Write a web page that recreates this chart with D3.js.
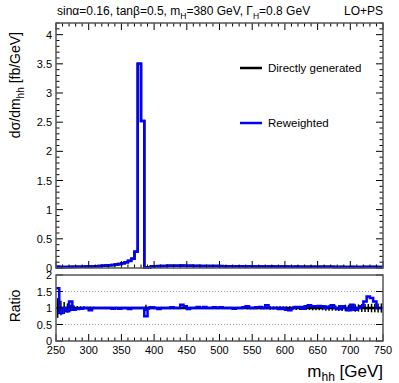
<!DOCTYPE html>
<html>
<head>
<meta charset="utf-8">
<script src="https://cdn.jsdelivr.net/npm/d3@7"></script>
<style>
  body { margin: 0; background: #fff; }
  text { font-family: "Liberation Sans", Arial, sans-serif; fill: #000; }
</style>
</head>
<body>
<script>
// bin edges: 5 GeV bins from 250 to 750
var binLow = d3.range(250, 750, 5);

// dsigma/dm_hh [fb/GeV], directly generated
var directValues = [
  0.015, 0.016, 0.017, 0.018, 0.019, 0.020, 0.021, 0.022, 0.023, 0.025,
  0.027, 0.029, 0.031, 0.034, 0.037, 0.041, 0.046, 0.052, 0.060, 0.070,
  0.082, 0.100, 0.125, 0.160, 0.280, 3.500, 2.520, 0.004, 0.014, 0.024,
  0.030, 0.033, 0.035, 0.036, 0.037, 0.038, 0.038, 0.038, 0.038, 0.038,
  0.037, 0.037, 0.036, 0.036, 0.035, 0.035, 0.034, 0.034, 0.033, 0.033,
  0.032, 0.032, 0.031, 0.031, 0.030, 0.030, 0.029, 0.029, 0.028, 0.028,
  0.027, 0.027, 0.026, 0.026, 0.026, 0.025, 0.025, 0.025, 0.024, 0.024,
  0.024, 0.023, 0.023, 0.023, 0.022, 0.022, 0.022, 0.021, 0.021, 0.021,
  0.021, 0.020, 0.020, 0.020, 0.020, 0.019, 0.019, 0.019, 0.019, 0.018,
  0.018, 0.018, 0.018, 0.018, 0.017, 0.017, 0.017, 0.017, 0.017, 0.016
];

// ratio reweighted / directly generated
var ratioValues = [
  1.60, 0.85, 1.00, 0.90, 1.20, 0.95, 0.97, 0.98, 1.00, 1.00,
  0.93, 1.00, 1.00, 1.00, 1.00, 1.00, 1.00, 0.98, 1.00, 0.98,
  1.00, 1.00, 0.97, 1.00, 1.00, 1.00, 1.00, 0.75, 1.00, 1.02,
  1.00, 0.97, 1.00, 1.00, 1.00, 1.02, 1.00, 1.00, 1.10, 1.05,
  0.97, 1.00, 1.00, 1.03, 1.00, 1.03, 1.00, 1.00, 1.02, 1.00,
  1.02, 1.00, 1.00, 1.00, 0.98, 1.00, 1.00, 1.02, 1.05, 1.00,
  1.00, 1.02, 1.03, 1.00, 1.08, 1.00, 1.00, 1.00, 0.97, 1.00,
  0.95, 0.93, 1.00, 1.03, 1.03, 0.98, 1.05, 1.08, 1.05, 1.05,
  1.06, 1.05, 1.00, 1.04, 1.08, 1.00, 0.97, 1.05, 1.00, 0.93,
  1.10, 0.95, 1.00, 1.05, 1.20, 1.35, 1.30, 1.20, 1.00, 1.00
];

// relative stat. error of the direct sample
var directErrors = [
  0.30, 0.22, 0.18, 0.14, 0.10, 0.08, 0.06, 0.05, 0.05, 0.04,
  0.04, 0.04, 0.03, 0.03, 0.03, 0.03, 0.03, 0.02, 0.02, 0.02,
  0.02, 0.02, 0.02, 0.02, 0.02, 0.01, 0.01, 0.10, 0.05, 0.03,
  0.03, 0.03, 0.03, 0.03, 0.03, 0.03, 0.03, 0.03, 0.03, 0.03,
  0.03, 0.03, 0.03, 0.03, 0.03, 0.03, 0.03, 0.03, 0.03, 0.03,
  0.03, 0.03, 0.03, 0.03, 0.03, 0.03, 0.03, 0.03, 0.04, 0.04,
  0.04, 0.04, 0.04, 0.04, 0.04, 0.05, 0.05, 0.05, 0.05, 0.05,
  0.05, 0.05, 0.05, 0.06, 0.06, 0.06, 0.06, 0.06, 0.07, 0.07,
  0.07, 0.07, 0.08, 0.08, 0.08, 0.08, 0.09, 0.09, 0.10, 0.10,
  0.10, 0.11, 0.11, 0.12, 0.12, 0.12, 0.13, 0.13, 0.14, 0.14
];

var reweightedValues = directValues.map(function(v, i) { return v * ratioValues[i]; });

var upperTicks = [0, 0.5, 1, 1.5, 2, 2.5, 3, 3.5, 4];
var ratioTicks = [0, 0.5, 1, 1.5, 2];
var xTicks = [250, 300, 350, 400, 450, 500, 550, 600, 650, 700, 750];

var style = {
    left: 56,
    right: 383,
    upperTop: 23,
    upperBottom: 268,
    ratioTop: 275,
    ratioBottom: 341,
    frameColor: "#555",
    blue: "#0000ff"
};

var width = 399, height = 383;

var svg = d3.select("body").append("svg")
    .attr("width", width)
    .attr("height", height);

var x = d3.scaleLinear().domain([250, 750]).range([style.left, style.right]);
var yUp = d3.scaleLinear().domain([0, 4.2]).range([style.upperBottom, style.upperTop]);
var yRatio = d3.scaleLinear().domain([0, 2]).range([style.ratioBottom, style.ratioTop]);

// step path for a histogram
function histPath(values, y) {
    var p = d3.path();
    values.forEach(function(v, i) {
        var x0 = x(binLow[i]), x1 = x(binLow[i] + 5);
        if (i == 0) p.moveTo(x0, y(v)); else p.lineTo(x0, y(v));
        p.lineTo(x1, y(v));
    });
    return p.toString();
}

// ticks on all four sides of a frame
function drawTicks(g, top, bottom, yScale, majorY, minorStep, topTicks) {
    var minorX = d3.range(250, 751, 10);
    minorX.forEach(function(v) {
        var len = (v % 50 == 0) ? 7 : 3.5;
        g.append("line").attr("x1", x(v)).attr("x2", x(v))
            .attr("y1", bottom).attr("y2", bottom - len)
            .attr("stroke", "#000").attr("stroke-width", 1);
        if (topTicks) {
            g.append("line").attr("x1", x(v)).attr("x2", x(v))
                .attr("y1", top).attr("y2", top + len)
                .attr("stroke", "#000").attr("stroke-width", 1);
        }
    });
    var dom = yScale.domain();
    var minorY = d3.range(dom[0], dom[1] + 1e-9, minorStep);
    minorY.forEach(function(v) {
        var isMajor = majorY.some(function(m) { return Math.abs(m - v) < 1e-6; });
        var len = isMajor ? 7 : 3.5;
        g.append("line").attr("x1", style.left).attr("x2", style.left + len)
            .attr("y1", yScale(v)).attr("y2", yScale(v))
            .attr("stroke", "#000").attr("stroke-width", 1);
        g.append("line").attr("x1", style.right).attr("x2", style.right - len)
            .attr("y1", yScale(v)).attr("y2", yScale(v))
            .attr("stroke", "#000").attr("stroke-width", 1);
    });
}

// ---------- upper panel ----------
var upper = svg.append("g").attr("class", "upper");

upper.append("path")
    .attr("d", histPath(directValues, yUp))
    .attr("fill", "none").attr("stroke", "#000").attr("stroke-width", 2.5);

upper.append("path")
    .attr("d", histPath(reweightedValues, yUp))
    .attr("fill", "none").attr("stroke", style.blue).attr("stroke-width", 2.5);

drawTicks(upper, style.upperTop, style.upperBottom, yUp, upperTicks, 0.1, true);

upper.append("rect")
    .attr("x", style.left).attr("y", style.upperTop)
    .attr("width", style.right - style.left).attr("height", style.upperBottom - style.upperTop)
    .attr("fill", "none").attr("stroke", style.frameColor).attr("stroke-width", 1.5);

upper.selectAll("text.ytick").data(upperTicks).enter().append("text")
    .attr("class", "ytick")
    .attr("x", style.left - 4).attr("y", function(d) { return yUp(d) + 4; })
    .attr("text-anchor", "end").attr("font-size", 11)
    .text(function(d) { return d; });

// legend
var legend = upper.append("g");
legend.append("line").attr("x1", 240).attr("x2", 262).attr("y1", 68).attr("y2", 68)
    .attr("stroke", "#000").attr("stroke-width", 2.5);
legend.append("text").attr("x", 268).attr("y", 72).attr("font-size", 11.5).text("Directly generated");
legend.append("line").attr("x1", 240).attr("x2", 262).attr("y1", 123).attr("y2", 123)
    .attr("stroke", style.blue).attr("stroke-width", 2.5);
legend.append("text").attr("x", 268).attr("y", 127).attr("font-size", 11.5).text("Reweighted");

// ---------- ratio panel ----------
var lower = svg.append("g").attr("class", "ratio");

[0.5, 1, 1.5].forEach(function(v) {
    lower.append("line")
        .attr("x1", style.left).attr("x2", style.right)
        .attr("y1", yRatio(v)).attr("y2", yRatio(v))
        .attr("stroke", "#999").attr("stroke-width", 1).attr("stroke-dasharray", "1,2");
});

// direct sample: ratio 1 with error bars
binLow.forEach(function(b, i) {
    var xc = x(b + 2.5);
    lower.append("line")
        .attr("x1", xc).attr("x2", xc)
        .attr("y1", yRatio(1 - directErrors[i])).attr("y2", yRatio(1 + directErrors[i]))
        .attr("stroke", "#000").attr("stroke-width", 1.5);
});
lower.append("path")
    .attr("d", histPath(binLow.map(function() { return 1; }), yRatio))
    .attr("fill", "none").attr("stroke", "#000").attr("stroke-width", 2.5);

lower.append("path")
    .attr("d", histPath(ratioValues, yRatio))
    .attr("fill", "none").attr("stroke", style.blue).attr("stroke-width", 2.5);

drawTicks(lower, style.ratioTop, style.ratioBottom, yRatio, ratioTicks, 0.5, false);

lower.append("rect")
    .attr("x", style.left).attr("y", style.ratioTop)
    .attr("width", style.right - style.left).attr("height", style.ratioBottom - style.ratioTop)
    .attr("fill", "none").attr("stroke", style.frameColor).attr("stroke-width", 1.5);

lower.selectAll("text.ytick").data(ratioTicks).enter().append("text")
    .attr("class", "ytick")
    .attr("x", style.left - 4).attr("y", function(d) { return yRatio(d) + 4; })
    .attr("text-anchor", "end").attr("font-size", 11)
    .text(function(d) { return d; });

lower.selectAll("text.xtick").data(xTicks).enter().append("text")
    .attr("class", "xtick")
    .attr("x", function(d) { return x(d); }).attr("y", style.ratioBottom + 13)
    .attr("text-anchor", "middle").attr("font-size", 11)
    .text(function(d) { return d; });

// ---------- labels ----------
var title = svg.append("text").attr("x", 57).attr("y", 15).attr("font-size", 12);
title.append("tspan").text("sin\u03b1=0.16, tan\u03b2=0.5, m");
title.append("tspan").attr("dy", 4).attr("font-size", 8.5).text("H");
title.append("tspan").attr("dy", -4).text("=380 GeV, \u0393");
title.append("tspan").attr("dy", 4).attr("font-size", 8.5).text("H");
title.append("tspan").attr("dy", -4).text("=0.8 GeV");

svg.append("text").attr("x", style.right).attr("y", 15)
    .attr("text-anchor", "end").attr("font-size", 12).text("LO+PS");

var yLabel = svg.append("text")
    .attr("transform", "translate(20,32) rotate(-90)")
    .attr("text-anchor", "end").attr("font-size", 14);
yLabel.append("tspan").text("d\u03c3/dm");
yLabel.append("tspan").attr("dy", 4).attr("font-size", 10).text("hh");
yLabel.append("tspan").attr("dy", -4).text(" [fb/GeV]");

svg.append("text")
    .attr("transform", "translate(20,306) rotate(-90)")
    .attr("text-anchor", "middle").attr("font-size", 14).text("Ratio");

var xLabel = svg.append("text")
    .attr("x", style.right).attr("y", 377)
    .attr("text-anchor", "end").attr("font-size", 17);
xLabel.append("tspan").text("m");
xLabel.append("tspan").attr("dy", 4).attr("font-size", 12).text("hh");
xLabel.append("tspan").attr("dy", -4).text(" [GeV]");
</script>
</body>
</html>
